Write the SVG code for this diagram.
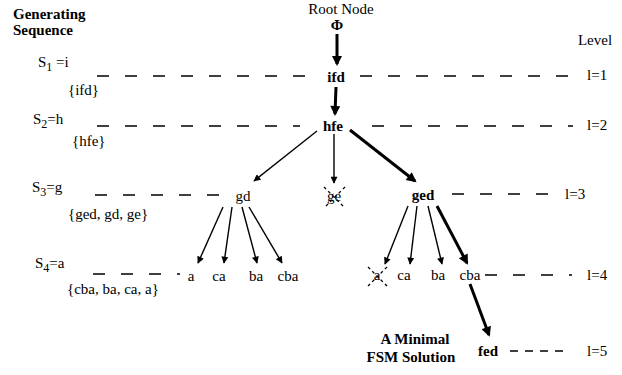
<svg xmlns="http://www.w3.org/2000/svg" width="622" height="375" viewBox="0 0 622 375" font-family="'Liberation Serif', 'DejaVu Serif', serif">
<style>
text{font-family:'Liberation Serif','DejaVu Serif',serif;fill:#000;font-size:15px}
.b{font-weight:bold}
.m{text-anchor:middle}
.dash{stroke:#000;stroke-width:1.5;stroke-dasharray:12 16;fill:none}
.thin{stroke:#000;stroke-width:1.4;fill:none}
.thick{stroke:#000;stroke-width:3;fill:none}
.x{stroke:#000;stroke-width:1.3;stroke-dasharray:3 3;fill:none}
</style>
<defs>
<marker id="ah" viewBox="0 0 10 10" refX="9" refY="5" markerWidth="9" markerHeight="7" markerUnits="userSpaceOnUse" orient="auto"><path d="M0,0 L10,5 L0,10 z" fill="#000"/></marker>
<marker id="ahb" viewBox="0 0 10 10" refX="8" refY="5" markerWidth="13" markerHeight="10" markerUnits="userSpaceOnUse" orient="auto"><path d="M0,0 L10,5 L0,10 z" fill="#000"/></marker>
</defs>

<g id="legend">
<text x="13" y="19" class="b" font-size="14">Generating</text>
<text x="13" y="35" class="b" font-size="14">Sequence</text>
<text x="595" y="45" class="m" font-size="14">Level</text>
<text x="38" y="67">S<tspan dy="4" font-size="12">1</tspan><tspan dy="-4"> =i</tspan></text>
<text x="68" y="95">{ifd}</text>
<text x="33" y="124">S<tspan dy="4" font-size="12">2</tspan><tspan dy="-4">=h</tspan></text>
<text x="72" y="146">{hfe}</text>
<text x="32" y="192">S<tspan dy="4" font-size="12">3</tspan><tspan dy="-4">=g</tspan></text>
<text x="68" y="219">{ged, gd, ge}</text>
<text x="35" y="268">S<tspan dy="4" font-size="12">4</tspan><tspan dy="-4">=a</tspan></text>
<text x="67" y="294">{cba, ba, ca, a}</text>
<text x="587" y="80">l=1</text>
<text x="587" y="130">l=2</text>
<text x="565" y="199">l=3</text>
<text x="587" y="280">l=4</text>
<text x="587" y="356">l=5</text>
<text x="415" y="344" class="b m" font-size="14">A Minimal</text>
<text x="411" y="362" class="b m" font-size="14">FSM Solution</text>
</g>

<g id="connectors">
<line class="dash" x1="97" y1="76" x2="305" y2="76"/>
<line class="dash" x1="360" y1="76" x2="575" y2="76"/>
<line class="dash" x1="97" y1="126" x2="300" y2="126"/>
<line class="dash" x1="372" y1="126" x2="573" y2="126"/>
<line class="dash" x1="95" y1="195" x2="222" y2="195"/>
<line class="dash" x1="452" y1="194" x2="557" y2="194"/>
<line class="dash" x1="93" y1="274" x2="180" y2="274"/>
<line class="dash" x1="485" y1="275" x2="572" y2="275"/>
<line class="dash" x1="510" y1="351" x2="565" y2="351" style="stroke-dasharray:8 7"/>

<line class="thick" x1="337" y1="34" x2="337" y2="64" marker-end="url(#ahb)"/>
<line class="thick" x1="336" y1="87" x2="335" y2="114" marker-end="url(#ahb)"/>
<line class="thin" x1="317" y1="131" x2="254" y2="181" marker-end="url(#ah)"/>
<line class="thin" x1="334" y1="134" x2="334" y2="183" marker-end="url(#ah)"/>
<line class="thick" x1="350" y1="130" x2="415" y2="181" marker-end="url(#ahb)"/>
<line class="thin" x1="223" y1="207" x2="198" y2="263" marker-end="url(#ah)"/>
<line class="thin" x1="232" y1="207" x2="224" y2="263" marker-end="url(#ah)"/>
<line class="thin" x1="242" y1="207" x2="257" y2="263" marker-end="url(#ah)"/>
<line class="thin" x1="249" y1="207" x2="282" y2="263" marker-end="url(#ah)"/>
<line class="thin" x1="408" y1="206" x2="385" y2="264" marker-end="url(#ah)"/>
<line class="thin" x1="417" y1="206" x2="410" y2="264" marker-end="url(#ah)"/>
<line class="thin" x1="428" y1="206" x2="442" y2="264" marker-end="url(#ah)"/>
<line class="thick" x1="437" y1="206" x2="467" y2="263" marker-end="url(#ahb)"/>
<line class="thick" x1="470" y1="284" x2="489" y2="335" marker-end="url(#ahb)"/>
</g>

<g id="root"><text x="341" y="14" class="m">Root Node</text><text x="337" y="30" class="b m" font-size="12">Φ</text></g>
<g id="n-ifd"><text x="336" y="82" class="b m">ifd</text></g>
<g id="n-hfe"><text x="333" y="131" class="b m">hfe</text></g>
<g id="n-gd"><text x="243" y="201" class="m">gd</text></g>
<g id="n-ge"><text x="334" y="201" class="m">ge</text>
<line class="x" x1="324" y1="187" x2="345" y2="208"/><line class="x" x1="345" y1="187" x2="324" y2="208"/></g>
<g id="n-ged"><text x="423" y="200" class="b m">ged</text></g>
<g id="n-a1"><text x="191" y="281" class="m">a</text></g>
<g id="n-ca1"><text x="219" y="281" class="m">ca</text></g>
<g id="n-ba1"><text x="256" y="281" class="m">ba</text></g>
<g id="n-cba1"><text x="288" y="281" class="m">cba</text></g>
<g id="n-a2"><text x="377" y="280" class="m">a</text>
<line class="x" x1="368" y1="267" x2="387" y2="286"/><line class="x" x1="387" y1="267" x2="368" y2="286"/></g>
<g id="n-ca2"><text x="404" y="280" class="m">ca</text></g>
<g id="n-ba2"><text x="438" y="280" class="m">ba</text></g>
<g id="n-cba2"><text x="470" y="280" class="m">cba</text></g>
<g id="n-fed"><text x="488" y="356" class="b m">fed</text></g>
</svg>
